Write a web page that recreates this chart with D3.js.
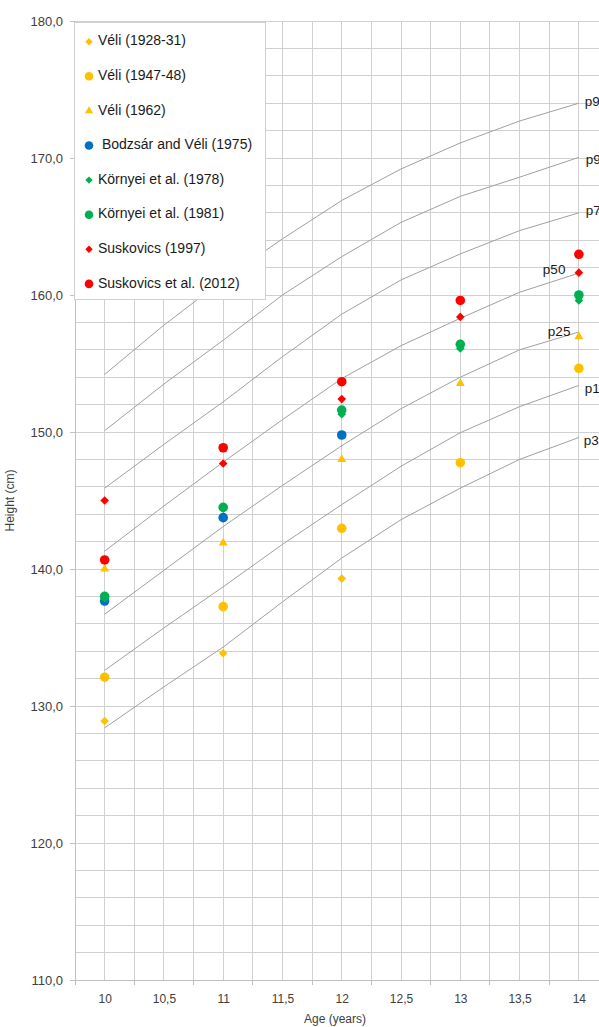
<!DOCTYPE html>
<html>
<head>
<meta charset="utf-8">
<script src="https://cdn.jsdelivr.net/npm/d3@7/dist/d3.min.js"></script>
<style>
  html, body { margin: 0; padding: 0; background: #fff; }
  svg { display: block; font-family: "Liberation Sans", Arial, sans-serif; }
</style>
</head>
<body>
<div id="chart"></div>
<script>
// Reference growth curves (height percentiles by age)
const curveAges = [10, 10.5, 11, 11.5, 12, 12.5, 13, 13.5, 14];
const percentileNames = ["p97", "p90", "p75", "p50", "p25", "p10", "p3"];
const p97 = [154.2, 157.8, 161.1, 164.1, 166.9, 169.2, 171.1, 172.7, 174.0];
const p90 = [150.1, 153.5, 156.7, 160.0, 162.8, 165.3, 167.2, 168.6, 170.05];
const p75 = [145.9, 149.1, 152.2, 155.5, 158.6, 161.1, 163.0, 164.7, 166.0];
const p50 = [141.3, 144.6, 147.8, 150.9, 153.9, 156.3, 158.3, 160.2, 161.6];
const p25 = [136.7, 139.9, 143.1, 146.1, 149.0, 151.7, 154.0, 156.0, 157.3];
const p10 = [132.6, 135.7, 138.7, 141.8, 144.7, 147.5, 149.95, 151.85, 153.4];
const p3  = [128.4, 131.4, 134.3, 137.6, 140.8, 143.6, 145.9, 148.0, 149.6];

// Mean heights from the surveys, by age
const surveyAges = [10, 11, 12, 13, 14];
const seriesNames = ["Véli (1928-31)", "Véli (1947-48)", "Véli (1962)", " Bodzsár and Véli (1975)",
                     "Környei et al. (1978)", "Környei et al. (1981)", "Suskovics (1997)", "Suskovics et al. (2012)"];
const veli1928 = [128.9, 133.85, 139.3, null, null];
const veli1947 = [132.1, 137.25, 142.97, 147.76, 154.65];
const veli1962 = [140.0, 141.9, 148.0, 153.55, 156.96];
const bodzsar1975 = [137.66, 143.75, 149.78, null, null];
const kornyei1978 = [137.9, 144.4, 151.3, 156.1, 159.6];
const kornyei1981 = [138.0, 144.5, 151.6, 156.4, 160.0];
const suskovics1997 = [145.0, 147.7, 152.4, 158.4, 161.63];
const suskovics2012 = [140.66, 148.85, 153.67, 159.6, 162.97];

// Axis ticks
const xTickLabels = [10, 10.5, 11, 11.5, 12, 12.5, 13, 13.5, 14];
const yTickLabels = [110, 120, 130, 140, 150, 160, 170, 180];

const curves = [p97, p90, p75, p50, p25, p10, p3].map((v, i) => ({ name: percentileNames[i], values: v }));
const seriesValues = [veli1928, veli1947, veli1962, bodzsar1975, kornyei1978, kornyei1981, suskovics1997, suskovics2012];
const seriesColors = ["#FFC000", "#FFC000", "#FFC000", "#0070C0", "#00B050", "#00B050", "#FF0000", "#FF0000"];
const seriesShapes = ["diamond", "circle", "triangle", "circle", "diamond", "circle", "diamond", "circle"];

const W = 599, H = 1027;
const svg = d3.select("#chart").append("svg").attr("width", W).attr("height", H);

const x = d3.scaleLinear().domain([9.75, 14.25]).range([75, 608.5]);
const y = d3.scaleLinear().domain([110, 180]).range([980, 21]);

const fmt = v => String(v).replace(".", ",");

// Gridlines
const g = svg.append("g");
g.selectAll("line.hg").data(d3.range(112, 181, 2)).join("line")
  .attr("x1", x(9.75)).attr("x2", x(14.25))
  .attr("y1", d => y(d)).attr("y2", d => y(d))
  .attr("stroke", "#d0d0d0").attr("stroke-width", 1).attr("shape-rendering", "crispEdges");
g.selectAll("line.vg").data(d3.range(10, 14.26, 0.25)).join("line")
  .attr("x1", d => x(d)).attr("x2", d => x(d))
  .attr("y1", y(110)).attr("y2", y(180))
  .attr("stroke", "#d0d0d0").attr("stroke-width", 1).attr("shape-rendering", "crispEdges");

// Axes
const yAxis = d3.axisLeft(y).tickValues(yTickLabels).tickSize(5).tickPadding(7)
  .tickFormat(d => d3.format(".1f")(d).replace(".", ","));
const ay = svg.append("g").attr("transform", `translate(${x(9.75)},0)`).call(yAxis);
ay.select(".domain").attr("stroke", "#c0c0c0");
ay.selectAll(".tick line").attr("stroke", "#c0c0c0");
ay.selectAll("text").attr("font-size", 13).attr("fill", "#404040").attr("font-family", "Liberation Sans, Arial, sans-serif");

const xAxis = d3.axisBottom(x).tickValues(xTickLabels).tickSize(0).tickPadding(14).tickFormat(fmt);
const ax = svg.append("g").attr("transform", `translate(0,${y(110)})`).call(xAxis);
ax.select(".domain").attr("stroke", "#c0c0c0");
ax.selectAll("text").attr("font-size", 12).attr("fill", "#404040").attr("font-family", "Liberation Sans, Arial, sans-serif");
ax.selectAll("line.sep").data(d3.range(9.75, 14.3, 0.5)).join("line")
  .attr("class", "sep")
  .attr("x1", d => x(d)).attr("x2", d => x(d)).attr("y1", 0).attr("y2", 5)
  .attr("stroke", "#c0c0c0").attr("shape-rendering", "crispEdges");

svg.append("text").attr("x", 335).attr("y", 1023).attr("text-anchor", "middle")
  .attr("font-size", 12).attr("fill", "#404040").text("Age (years)");
svg.append("text").attr("transform", `translate(14,${(y(110) + y(180)) / 2}) rotate(-90)`)
  .attr("text-anchor", "middle").attr("font-size", 12).attr("fill", "#404040").text("Height (cm)");

// Percentile curves
const line = d3.line().x((d, i) => x(curveAges[i])).y(d => y(d));
svg.append("g").selectAll("path").data(curves).join("path")
  .attr("d", d => line(d.values))
  .attr("fill", "none").attr("stroke", "#a0a0a0").attr("stroke-width", 1);

// Percentile labels (run off the right edge of the plot like the curves)
const labelOffset = { p97: [6, -1], p90: [7, 3], p75: [7, -1], p50: [-36, -3], p25: [-31, 0], p10: [6, 4], p3: [5, 4] };
svg.append("g").selectAll("text").data(curves).join("text")
  .attr("x", d => x(curveAges[curveAges.length - 1]) + labelOffset[d.name][0])
  .attr("y", d => y(d.values[d.values.length - 1]) + labelOffset[d.name][1])
  .attr("dominant-baseline", "middle")
  .attr("font-size", 13.5).attr("fill", "#1a1a1a")
  .attr("font-family", "'Liberation Sans', Arial, sans-serif")
  .text(d => d.name);

// Marker shapes
function markerPath(shape, s) {
  if (shape === "circle") return d3.symbol(d3.symbolCircle, Math.PI * s * s)();
  if (shape === "triangle") return d3.symbol(d3.symbolTriangle, s * s * 1.55)();
  // diamond: a square turned 45 degrees
  return `M0,${-s}L${s},0L0,${s}L${-s},0Z`;
}
const markerSize = { circle: 4.8, triangle: 4.7, diamond: 4.3 };
const legendSize = { circle: 4.3, triangle: 4.3, diamond: 3.7 };

const marks = svg.append("g");
seriesValues.forEach((vals, si) => {
  const pts = vals.map((v, i) => ({ age: surveyAges[i], v })).filter(d => d.v != null);
  marks.append("g").selectAll("path").data(pts).join("path")
    .attr("transform", d => `translate(${x(d.age)},${y(d.v)})`)
    .attr("d", markerPath(seriesShapes[si], markerSize[seriesShapes[si]]))
    .attr("fill", seriesColors[si]);
});

// Legend
const lg = svg.append("g");
lg.append("rect").attr("x", 74.5).attr("y", 22.5).attr("width", 191).attr("height", 277)
  .attr("fill", "#fff").attr("stroke", "#d0d0d0");
const items = lg.selectAll("g.item").data(seriesNames).join("g")
  .attr("class", "item")
  .attr("transform", (d, i) => `translate(89,${41.7 + i * 34.6})`);
items.append("path")
  .attr("d", (d, i) => markerPath(seriesShapes[i], legendSize[seriesShapes[i]]))
  .attr("fill", (d, i) => seriesColors[i]);
items.append("text").attr("x", 9).attr("dominant-baseline", "middle")
  .attr("font-size", 14).attr("fill", "#1a1a1a").style("white-space", "pre")
  .text(d => d);
</script>
</body>
</html>
